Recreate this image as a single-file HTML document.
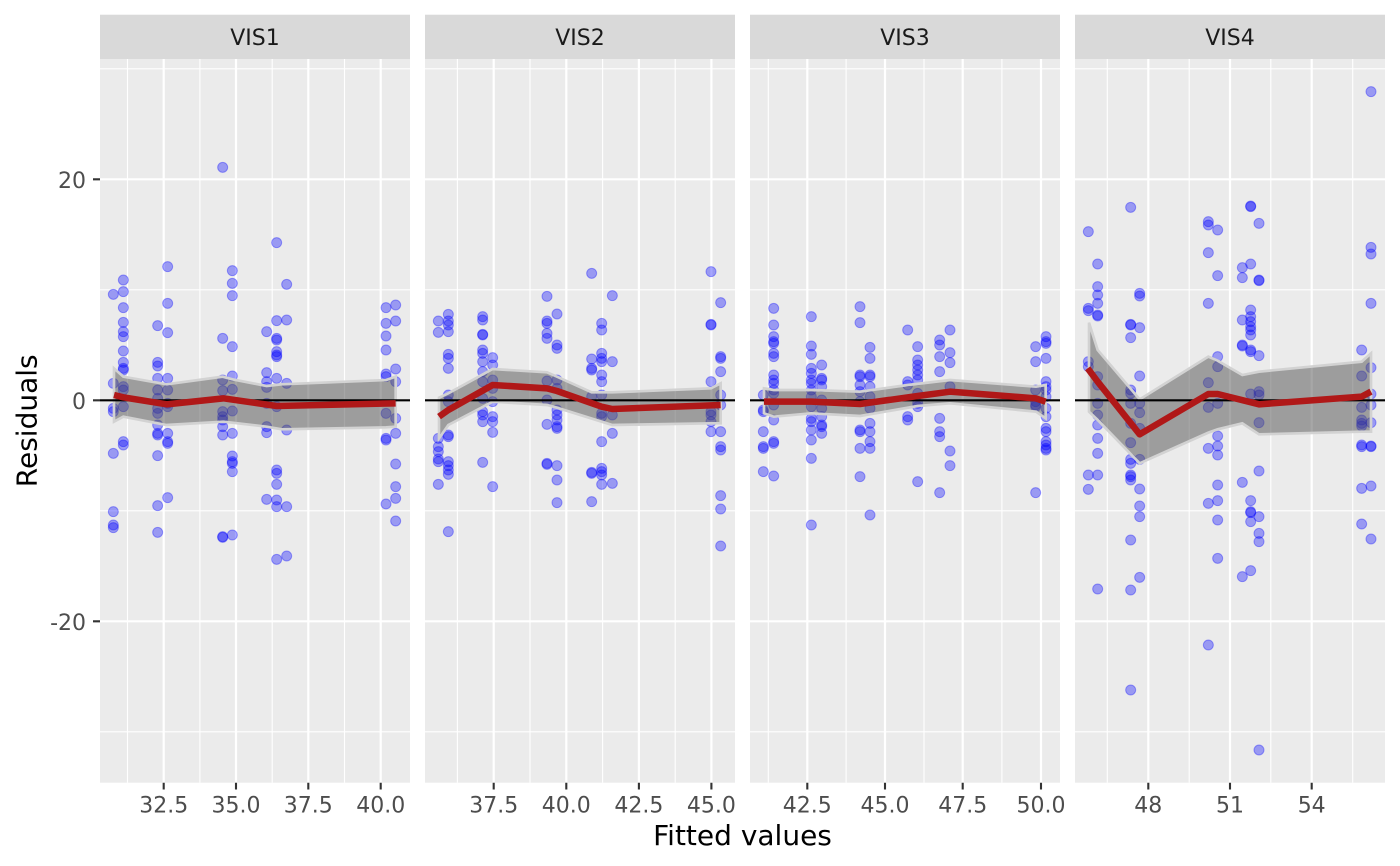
<!DOCTYPE html>
<html><head><meta charset="utf-8"><style>
html,body{margin:0;padding:0;background:#fff;}
svg{display:block;}
.pt circle{fill:rgba(0,0,255,0.35);stroke:rgba(0,0,255,0.35);stroke-width:3;}
.rib{fill:rgba(80,80,80,0.5);stroke:#d2d2d2;stroke-width:8;stroke-linejoin:miter;}
.fit{fill:none;stroke:#b01818;stroke-width:19.5;stroke-linejoin:round;stroke-linecap:butt;}
.tk{font-family:"DejaVu Sans","Liberation Sans",sans-serif;font-size:22px;fill:#4d4d4d;}
.st{font-family:"DejaVu Sans","Liberation Sans",sans-serif;font-size:22px;fill:#1a1a1a;}
.ti{font-family:"DejaVu Sans","Liberation Sans",sans-serif;font-size:28px;fill:#000;}
</style></head><body>
<svg width="1400" height="866" viewBox="0 0 1400 866" xmlns="http://www.w3.org/2000/svg">
<defs>
<clipPath id="c1"><rect x="100" y="59" width="310" height="723.7"/></clipPath>
<clipPath id="c2"><rect x="425" y="59" width="310" height="723.7"/></clipPath>
<clipPath id="c3"><rect x="750" y="59" width="310" height="723.7"/></clipPath>
<clipPath id="c4"><rect x="1075" y="59" width="310" height="723.7"/></clipPath>
</defs>
<rect width="1400" height="866" fill="#fff"/>

<!-- strips -->
<rect x="100" y="14.7" width="310" height="44.3" fill="#d9d9d9"/>
<rect x="425" y="14.7" width="310" height="44.3" fill="#d9d9d9"/>
<rect x="750" y="14.7" width="310" height="44.3" fill="#d9d9d9"/>
<rect x="1075" y="14.7" width="310" height="44.3" fill="#d9d9d9"/>
<text class="st" x="255" y="45" text-anchor="middle">VIS1</text>
<text class="st" x="580" y="45" text-anchor="middle">VIS2</text>
<text class="st" x="905" y="45" text-anchor="middle">VIS3</text>
<text class="st" x="1230" y="45" text-anchor="middle">VIS4</text>

<!-- panel backgrounds -->
<rect x="100" y="59" width="310" height="723.7" fill="#ebebeb"/>
<rect x="425" y="59" width="310" height="723.7" fill="#ebebeb"/>
<rect x="750" y="59" width="310" height="723.7" fill="#ebebeb"/>
<rect x="1075" y="59" width="310" height="723.7" fill="#ebebeb"/>

<!-- horizontal grid -->
<g stroke="#fff">
<g stroke-width="1.1">
<path d="M100 68.8H410M425 68.8H735M750 68.8H1060M1075 68.8H1385"/>
<path d="M100 289.8H410M425 289.8H735M750 289.8H1060M1075 289.8H1385"/>
<path d="M100 510.8H410M425 510.8H735M750 510.8H1060M1075 510.8H1385"/>
<path d="M100 731.8H410M425 731.8H735M750 731.8H1060M1075 731.8H1385"/>
<path d="M127.5 59V782.7M199.9 59V782.7M272.2 59V782.7M344.5 59V782.7"/>
<path d="M457.4 59V782.7M530 59V782.7M602.6 59V782.7M675.2 59V782.7"/>
<path d="M768.3 59V782.7M846.1 59V782.7M924 59V782.7M1001.9 59V782.7"/>
<path d="M1107.3 59V782.7M1189.2 59V782.7M1270.8 59V782.7M1352.7 59V782.7"/>
</g>
<g stroke-width="2.2">
<path d="M100 179.3H410M425 179.3H735M750 179.3H1060M1075 179.3H1385"/>
<path d="M100 400.3H410M425 400.3H735M750 400.3H1060M1075 400.3H1385"/>
<path d="M100 621.3H410M425 621.3H735M750 621.3H1060M1075 621.3H1385"/>
<path d="M163.7 59V782.7M236 59V782.7M308.3 59V782.7M380.7 59V782.7"/>
<path d="M493.7 59V782.7M566.3 59V782.7M638.9 59V782.7M711.4 59V782.7"/>
<path d="M807.3 59V782.7M885 59V782.7M962.7 59V782.7M1041 59V782.7"/>
<path d="M1148.3 59V782.7M1230 59V782.7M1311.7 59V782.7"/>
</g>
</g>

<!-- PANEL 1 -->
<g clip-path="url(#c1)">
<g transform="translate(100,150) scale(0.333333)">
<g class="pt">
<circle cx="40" cy="433" r="15"/><circle cx="40" cy="700" r="15"/><circle cx="40" cy="775" r="15"/><circle cx="40" cy="785" r="15"/><circle cx="40" cy="910" r="15"/><circle cx="40" cy="1085" r="15"/><circle cx="40" cy="1125" r="15"/><circle cx="40" cy="1133" r="15"/>
<circle cx="70" cy="390" r="15"/><circle cx="70" cy="425" r="15"/><circle cx="70" cy="473" r="15"/><circle cx="70" cy="517" r="15"/><circle cx="70" cy="545" r="15"/><circle cx="70" cy="560" r="15"/><circle cx="70" cy="603" r="15"/><circle cx="70" cy="637" r="15"/><circle cx="70" cy="655" r="15"/><circle cx="70" cy="660" r="15"/><circle cx="70" cy="710" r="15"/><circle cx="70" cy="720" r="15"/><circle cx="70" cy="770" r="15"/><circle cx="70" cy="875" r="15"/><circle cx="70" cy="885" r="15"/>
<circle cx="173" cy="527" r="15"/><circle cx="173" cy="637" r="15"/><circle cx="173" cy="648" r="15"/><circle cx="173" cy="685" r="15"/><circle cx="173" cy="720" r="15"/><circle cx="173" cy="745" r="15"/><circle cx="173" cy="775" r="15"/><circle cx="173" cy="790" r="15"/><circle cx="173" cy="825" r="15"/><circle cx="173" cy="850" r="15"/><circle cx="173" cy="855" r="15"/><circle cx="173" cy="917" r="15"/><circle cx="173" cy="1067" r="15"/><circle cx="173" cy="1147" r="15"/>
<circle cx="203" cy="350" r="15"/><circle cx="203" cy="460" r="15"/><circle cx="203" cy="548" r="15"/><circle cx="203" cy="685" r="15"/><circle cx="203" cy="720" r="15"/><circle cx="203" cy="760" r="15"/><circle cx="203" cy="770" r="15"/><circle cx="203" cy="850" r="15"/><circle cx="203" cy="875" r="15"/><circle cx="203" cy="880" r="15"/><circle cx="203" cy="1043" r="15"/>
<circle cx="368" cy="52" r="15"/><circle cx="368" cy="565" r="15"/><circle cx="368" cy="690" r="15"/><circle cx="368" cy="722" r="15"/><circle cx="368" cy="785" r="15"/><circle cx="368" cy="800" r="15"/><circle cx="368" cy="810" r="15"/><circle cx="368" cy="830" r="15"/><circle cx="368" cy="855" r="15"/><circle cx="368" cy="1160" r="15"/><circle cx="368" cy="1162" r="15"/>
<circle cx="397" cy="362" r="15"/><circle cx="397" cy="400" r="15"/><circle cx="397" cy="437" r="15"/><circle cx="397" cy="590" r="15"/><circle cx="397" cy="678" r="15"/><circle cx="397" cy="718" r="15"/><circle cx="397" cy="783" r="15"/><circle cx="397" cy="850" r="15"/><circle cx="397" cy="918" r="15"/><circle cx="397" cy="935" r="15"/><circle cx="397" cy="940" r="15"/><circle cx="397" cy="965" r="15"/><circle cx="397" cy="1155" r="15"/>
<circle cx="500" cy="545" r="15"/><circle cx="500" cy="668" r="15"/><circle cx="500" cy="695" r="15"/><circle cx="500" cy="712" r="15"/><circle cx="500" cy="760" r="15"/><circle cx="500" cy="830" r="15"/><circle cx="500" cy="848" r="15"/><circle cx="500" cy="1048" r="15"/>
<circle cx="530" cy="278" r="15"/><circle cx="530" cy="512" r="15"/><circle cx="530" cy="565" r="15"/><circle cx="530" cy="570" r="15"/><circle cx="530" cy="605" r="15"/><circle cx="530" cy="615" r="15"/><circle cx="530" cy="620" r="15"/><circle cx="530" cy="685" r="15"/><circle cx="530" cy="770" r="15"/><circle cx="530" cy="960" r="15"/><circle cx="530" cy="970" r="15"/><circle cx="530" cy="1003" r="15"/><circle cx="530" cy="1050" r="15"/><circle cx="530" cy="1070" r="15"/><circle cx="530" cy="1228" r="15"/>
<circle cx="560" cy="403" r="15"/><circle cx="560" cy="510" r="15"/><circle cx="560" cy="700" r="15"/><circle cx="560" cy="840" r="15"/><circle cx="560" cy="1070" r="15"/><circle cx="560" cy="1218" r="15"/>
<circle cx="858" cy="473" r="15"/><circle cx="858" cy="520" r="15"/><circle cx="858" cy="558" r="15"/><circle cx="858" cy="600" r="15"/><circle cx="858" cy="672" r="15"/><circle cx="858" cy="680" r="15"/><circle cx="858" cy="790" r="15"/><circle cx="858" cy="865" r="15"/><circle cx="858" cy="870" r="15"/><circle cx="858" cy="1062" r="15"/>
<circle cx="887" cy="465" r="15"/><circle cx="887" cy="513" r="15"/><circle cx="887" cy="657" r="15"/><circle cx="887" cy="695" r="15"/><circle cx="887" cy="805" r="15"/><circle cx="887" cy="850" r="15"/><circle cx="887" cy="942" r="15"/><circle cx="887" cy="1010" r="15"/><circle cx="887" cy="1045" r="15"/><circle cx="887" cy="1113" r="15"/>
</g>
<polygon class="rib" points="42,655 70,680 200,703 368,680 397,688 500,708 545,703 858,690 887,680 887,830 858,832 545,838 500,830 397,818 370,815 200,825 70,800 42,815"/>
<path d="M0 751H930" stroke="#000" stroke-width="6.5"/>
<polyline class="fit" points="42,735 70,742 200,763 370,745 530,768 887,760"/>
</g>
</g>

<!-- PANEL 2 -->
<g clip-path="url(#c2)">
<g transform="translate(425,255) scale(0.333333)">
<g class="pt">
<circle cx="40" cy="198" r="15"/><circle cx="40" cy="232" r="15"/><circle cx="40" cy="550" r="15"/><circle cx="40" cy="575" r="15"/><circle cx="40" cy="590" r="15"/><circle cx="40" cy="612" r="15"/><circle cx="40" cy="620" r="15"/><circle cx="40" cy="688" r="15"/>
<circle cx="70" cy="178" r="15"/><circle cx="70" cy="198" r="15"/><circle cx="70" cy="210" r="15"/><circle cx="70" cy="230" r="15"/><circle cx="70" cy="298" r="15"/><circle cx="70" cy="310" r="15"/><circle cx="70" cy="340" r="15"/><circle cx="70" cy="420" r="15"/><circle cx="70" cy="440" r="15"/><circle cx="70" cy="540" r="15"/><circle cx="70" cy="545" r="15"/><circle cx="70" cy="620" r="15"/><circle cx="70" cy="632" r="15"/><circle cx="70" cy="645" r="15"/><circle cx="70" cy="658" r="15"/><circle cx="70" cy="830" r="15"/>
<circle cx="173" cy="185" r="15"/><circle cx="173" cy="195" r="15"/><circle cx="173" cy="238" r="15"/><circle cx="173" cy="240" r="15"/><circle cx="173" cy="285" r="15"/><circle cx="173" cy="295" r="15"/><circle cx="173" cy="320" r="15"/><circle cx="173" cy="350" r="15"/><circle cx="173" cy="380" r="15"/><circle cx="173" cy="430" r="15"/><circle cx="173" cy="470" r="15"/><circle cx="173" cy="480" r="15"/><circle cx="173" cy="500" r="15"/><circle cx="173" cy="622" r="15"/>
<circle cx="203" cy="308" r="15"/><circle cx="203" cy="330" r="15"/><circle cx="203" cy="375" r="15"/><circle cx="203" cy="400" r="15"/><circle cx="203" cy="440" r="15"/><circle cx="203" cy="485" r="15"/><circle cx="203" cy="500" r="15"/><circle cx="203" cy="532" r="15"/><circle cx="203" cy="695" r="15"/>
<circle cx="366" cy="124" r="15"/><circle cx="366" cy="198" r="15"/><circle cx="366" cy="205" r="15"/><circle cx="366" cy="235" r="15"/><circle cx="366" cy="250" r="15"/><circle cx="366" cy="378" r="15"/><circle cx="366" cy="435" r="15"/><circle cx="366" cy="508" r="15"/><circle cx="366" cy="625" r="15"/><circle cx="366" cy="628" r="15"/>
<circle cx="396" cy="177" r="15"/><circle cx="396" cy="270" r="15"/><circle cx="396" cy="280" r="15"/><circle cx="396" cy="375" r="15"/><circle cx="396" cy="400" r="15"/><circle cx="396" cy="465" r="15"/><circle cx="396" cy="480" r="15"/><circle cx="396" cy="495" r="15"/><circle cx="396" cy="515" r="15"/><circle cx="396" cy="520" r="15"/><circle cx="396" cy="632" r="15"/><circle cx="396" cy="675" r="15"/><circle cx="396" cy="743" r="15"/>
<circle cx="500" cy="55" r="15"/><circle cx="500" cy="312" r="15"/><circle cx="500" cy="340" r="15"/><circle cx="500" cy="345" r="15"/><circle cx="500" cy="425" r="15"/><circle cx="500" cy="652" r="15"/><circle cx="500" cy="655" r="15"/><circle cx="500" cy="740" r="15"/>
<circle cx="530" cy="205" r="15"/><circle cx="530" cy="225" r="15"/><circle cx="530" cy="295" r="15"/><circle cx="530" cy="310" r="15"/><circle cx="530" cy="320" r="15"/><circle cx="530" cy="360" r="15"/><circle cx="530" cy="380" r="15"/><circle cx="530" cy="420" r="15"/><circle cx="530" cy="475" r="15"/><circle cx="530" cy="485" r="15"/><circle cx="530" cy="560" r="15"/><circle cx="530" cy="640" r="15"/><circle cx="530" cy="650" r="15"/><circle cx="530" cy="660" r="15"/><circle cx="530" cy="688" r="15"/>
<circle cx="562" cy="122" r="15"/><circle cx="562" cy="320" r="15"/><circle cx="562" cy="480" r="15"/><circle cx="562" cy="535" r="15"/><circle cx="562" cy="685" r="15"/>
<circle cx="858" cy="50" r="15"/><circle cx="858" cy="208" r="15"/><circle cx="858" cy="210" r="15"/><circle cx="858" cy="380" r="15"/><circle cx="858" cy="470" r="15"/><circle cx="858" cy="480" r="15"/><circle cx="858" cy="500" r="15"/><circle cx="858" cy="530" r="15"/>
<circle cx="887" cy="143" r="15"/><circle cx="887" cy="305" r="15"/><circle cx="887" cy="310" r="15"/><circle cx="887" cy="350" r="15"/><circle cx="887" cy="420" r="15"/><circle cx="887" cy="450" r="15"/><circle cx="887" cy="530" r="15"/><circle cx="887" cy="575" r="15"/><circle cx="887" cy="585" r="15"/><circle cx="887" cy="722" r="15"/><circle cx="887" cy="762" r="15"/><circle cx="887" cy="873" r="15"/>
</g>
<polygon class="rib" points="42,428 70,415 203,342 366,352 396,365 500,412 562,412 858,400 887,385 887,505 858,505 562,510 530,500 396,458 366,450 203,440 70,510 42,550"/>
<path d="M0 436H930" stroke="#000" stroke-width="6.5"/>
<polyline class="fit" points="42,485 70,465 203,390 366,400 396,408 530,455 562,462 887,450"/>
</g>
</g>

<!-- PANEL 3 -->
<g clip-path="url(#c3)">
<g transform="translate(750,290) scale(0.333333)">
<g class="pt">
<circle cx="40" cy="315" r="15"/><circle cx="40" cy="360" r="15"/><circle cx="40" cy="365" r="15"/><circle cx="40" cy="425" r="15"/><circle cx="40" cy="470" r="15"/><circle cx="40" cy="475" r="15"/><circle cx="40" cy="545" r="15"/>
<circle cx="71" cy="55" r="15"/><circle cx="71" cy="105" r="15"/><circle cx="71" cy="140" r="15"/><circle cx="71" cy="155" r="15"/><circle cx="71" cy="160" r="15"/><circle cx="71" cy="190" r="15"/><circle cx="71" cy="200" r="15"/><circle cx="71" cy="255" r="15"/><circle cx="71" cy="270" r="15"/><circle cx="71" cy="280" r="15"/><circle cx="71" cy="300" r="15"/><circle cx="71" cy="310" r="15"/><circle cx="71" cy="345" r="15"/><circle cx="71" cy="390" r="15"/><circle cx="71" cy="455" r="15"/><circle cx="71" cy="460" r="15"/><circle cx="71" cy="558" r="15"/>
<circle cx="184" cy="80" r="15"/><circle cx="184" cy="168" r="15"/><circle cx="184" cy="193" r="15"/><circle cx="184" cy="235" r="15"/><circle cx="184" cy="250" r="15"/><circle cx="184" cy="270" r="15"/><circle cx="184" cy="280" r="15"/><circle cx="184" cy="300" r="15"/><circle cx="184" cy="320" r="15"/><circle cx="184" cy="350" r="15"/><circle cx="184" cy="385" r="15"/><circle cx="184" cy="395" r="15"/><circle cx="184" cy="420" r="15"/><circle cx="184" cy="450" r="15"/><circle cx="184" cy="505" r="15"/><circle cx="184" cy="705" r="15"/>
<circle cx="215" cy="225" r="15"/><circle cx="215" cy="265" r="15"/><circle cx="215" cy="270" r="15"/><circle cx="215" cy="290" r="15"/><circle cx="215" cy="330" r="15"/><circle cx="215" cy="355" r="15"/><circle cx="215" cy="380" r="15"/><circle cx="215" cy="405" r="15"/><circle cx="215" cy="410" r="15"/><circle cx="215" cy="430" r="15"/>
<circle cx="330" cy="50" r="15"/><circle cx="330" cy="98" r="15"/><circle cx="330" cy="255" r="15"/><circle cx="330" cy="260" r="15"/><circle cx="330" cy="285" r="15"/><circle cx="330" cy="305" r="15"/><circle cx="330" cy="335" r="15"/><circle cx="330" cy="420" r="15"/><circle cx="330" cy="425" r="15"/><circle cx="330" cy="475" r="15"/><circle cx="330" cy="560" r="15"/>
<circle cx="360" cy="172" r="15"/><circle cx="360" cy="205" r="15"/><circle cx="360" cy="255" r="15"/><circle cx="360" cy="260" r="15"/><circle cx="360" cy="290" r="15"/><circle cx="360" cy="320" r="15"/><circle cx="360" cy="355" r="15"/><circle cx="360" cy="400" r="15"/><circle cx="360" cy="425" r="15"/><circle cx="360" cy="455" r="15"/><circle cx="360" cy="475" r="15"/><circle cx="360" cy="675" r="15"/>
<circle cx="473" cy="120" r="15"/><circle cx="473" cy="275" r="15"/><circle cx="473" cy="285" r="15"/><circle cx="473" cy="380" r="15"/><circle cx="473" cy="390" r="15"/>
<circle cx="503" cy="170" r="15"/><circle cx="503" cy="210" r="15"/><circle cx="503" cy="225" r="15"/><circle cx="503" cy="240" r="15"/><circle cx="503" cy="255" r="15"/><circle cx="503" cy="270" r="15"/><circle cx="503" cy="310" r="15"/><circle cx="503" cy="340" r="15"/><circle cx="503" cy="350" r="15"/><circle cx="503" cy="575" r="15"/>
<circle cx="569" cy="150" r="15"/><circle cx="569" cy="165" r="15"/><circle cx="569" cy="200" r="15"/><circle cx="569" cy="245" r="15"/><circle cx="569" cy="385" r="15"/><circle cx="569" cy="425" r="15"/><circle cx="569" cy="440" r="15"/><circle cx="569" cy="608" r="15"/>
<circle cx="600" cy="120" r="15"/><circle cx="600" cy="188" r="15"/><circle cx="600" cy="218" r="15"/><circle cx="600" cy="290" r="15"/><circle cx="600" cy="483" r="15"/><circle cx="600" cy="527" r="15"/>
<circle cx="857" cy="170" r="15"/><circle cx="857" cy="215" r="15"/><circle cx="857" cy="300" r="15"/><circle cx="857" cy="335" r="15"/><circle cx="857" cy="345" r="15"/><circle cx="857" cy="350" r="15"/><circle cx="857" cy="608" r="15"/>
<circle cx="888" cy="140" r="15"/><circle cx="888" cy="155" r="15"/><circle cx="888" cy="160" r="15"/><circle cx="888" cy="205" r="15"/><circle cx="888" cy="275" r="15"/><circle cx="888" cy="290" r="15"/><circle cx="888" cy="300" r="15"/><circle cx="888" cy="320" r="15"/><circle cx="888" cy="355" r="15"/><circle cx="888" cy="380" r="15"/><circle cx="888" cy="415" r="15"/><circle cx="888" cy="425" r="15"/><circle cx="888" cy="455" r="15"/><circle cx="888" cy="465" r="15"/><circle cx="888" cy="475" r="15"/><circle cx="888" cy="480" r="15"/>
</g>
<polygon class="rib" points="42,295 71,300 184,300 330,305 473,285 600,270 858,290 887,285 887,385 858,365 600,340 503,348 330,378 184,370 71,380 42,370"/>
<path d="M0 331H930" stroke="#000" stroke-width="6.5"/>
<polyline class="fit" points="42,335 184,335 330,342 503,318 600,305 857,325 887,335"/>
</g>
</g>

<!-- PANEL 4 -->
<g clip-path="url(#c4)">
<g transform="translate(1075,190) scale(0.333333)">
<g class="pt">
<circle cx="40" cy="125" r="15"/><circle cx="40" cy="355" r="15"/><circle cx="40" cy="362" r="15"/><circle cx="40" cy="515" r="15"/><circle cx="40" cy="530" r="15"/><circle cx="40" cy="855" r="15"/><circle cx="40" cy="898" r="15"/>
<circle cx="68" cy="222" r="15"/><circle cx="68" cy="290" r="15"/><circle cx="68" cy="315" r="15"/><circle cx="68" cy="340" r="15"/><circle cx="68" cy="375" r="15"/><circle cx="68" cy="378" r="15"/><circle cx="68" cy="560" r="15"/><circle cx="68" cy="585" r="15"/><circle cx="68" cy="640" r="15"/><circle cx="68" cy="675" r="15"/><circle cx="68" cy="705" r="15"/><circle cx="68" cy="745" r="15"/><circle cx="68" cy="790" r="15"/><circle cx="68" cy="855" r="15"/><circle cx="68" cy="1197" r="15"/>
<circle cx="167" cy="52" r="15"/><circle cx="167" cy="403" r="15"/><circle cx="167" cy="405" r="15"/><circle cx="167" cy="443" r="15"/><circle cx="167" cy="600" r="15"/><circle cx="167" cy="610" r="15"/><circle cx="167" cy="640" r="15"/><circle cx="167" cy="700" r="15"/><circle cx="167" cy="758" r="15"/><circle cx="167" cy="808" r="15"/><circle cx="167" cy="820" r="15"/><circle cx="167" cy="855" r="15"/><circle cx="167" cy="860" r="15"/><circle cx="167" cy="870" r="15"/><circle cx="167" cy="1050" r="15"/><circle cx="167" cy="1200" r="15"/><circle cx="167" cy="1500" r="15"/>
<circle cx="194" cy="310" r="15"/><circle cx="194" cy="318" r="15"/><circle cx="194" cy="413" r="15"/><circle cx="194" cy="558" r="15"/><circle cx="194" cy="640" r="15"/><circle cx="194" cy="668" r="15"/><circle cx="194" cy="715" r="15"/><circle cx="194" cy="808" r="15"/><circle cx="194" cy="897" r="15"/><circle cx="194" cy="948" r="15"/><circle cx="194" cy="980" r="15"/><circle cx="194" cy="1162" r="15"/>
<circle cx="400" cy="95" r="15"/><circle cx="400" cy="105" r="15"/><circle cx="400" cy="188" r="15"/><circle cx="400" cy="340" r="15"/><circle cx="400" cy="578" r="15"/><circle cx="400" cy="652" r="15"/><circle cx="400" cy="775" r="15"/><circle cx="400" cy="940" r="15"/><circle cx="400" cy="1365" r="15"/>
<circle cx="428" cy="120" r="15"/><circle cx="428" cy="257" r="15"/><circle cx="428" cy="500" r="15"/><circle cx="428" cy="530" r="15"/><circle cx="428" cy="640" r="15"/><circle cx="428" cy="738" r="15"/><circle cx="428" cy="768" r="15"/><circle cx="428" cy="795" r="15"/><circle cx="428" cy="885" r="15"/><circle cx="428" cy="932" r="15"/><circle cx="428" cy="990" r="15"/><circle cx="428" cy="1105" r="15"/>
<circle cx="502" cy="233" r="15"/><circle cx="502" cy="263" r="15"/><circle cx="502" cy="390" r="15"/><circle cx="502" cy="465" r="15"/><circle cx="502" cy="468" r="15"/><circle cx="502" cy="877" r="15"/><circle cx="502" cy="1160" r="15"/>
<circle cx="527" cy="48" r="15"/><circle cx="527" cy="50" r="15"/><circle cx="527" cy="222" r="15"/><circle cx="527" cy="360" r="15"/><circle cx="527" cy="380" r="15"/><circle cx="527" cy="395" r="15"/><circle cx="527" cy="410" r="15"/><circle cx="527" cy="420" r="15"/><circle cx="527" cy="435" r="15"/><circle cx="527" cy="480" r="15"/><circle cx="527" cy="485" r="15"/><circle cx="527" cy="612" r="15"/><circle cx="527" cy="932" r="15"/><circle cx="527" cy="965" r="15"/><circle cx="527" cy="968" r="15"/><circle cx="527" cy="995" r="15"/><circle cx="527" cy="1142" r="15"/>
<circle cx="552" cy="100" r="15"/><circle cx="552" cy="270" r="15"/><circle cx="552" cy="272" r="15"/><circle cx="552" cy="497" r="15"/><circle cx="552" cy="605" r="15"/><circle cx="552" cy="615" r="15"/><circle cx="552" cy="698" r="15"/><circle cx="552" cy="843" r="15"/><circle cx="552" cy="980" r="15"/><circle cx="552" cy="1030" r="15"/><circle cx="552" cy="1055" r="15"/><circle cx="552" cy="1680" r="15"/>
<circle cx="860" cy="480" r="15"/><circle cx="860" cy="558" r="15"/><circle cx="860" cy="652" r="15"/><circle cx="860" cy="690" r="15"/><circle cx="860" cy="700" r="15"/><circle cx="860" cy="708" r="15"/><circle cx="860" cy="765" r="15"/><circle cx="860" cy="770" r="15"/><circle cx="860" cy="895" r="15"/><circle cx="860" cy="1002" r="15"/>
<circle cx="888" cy="-295" r="15"/><circle cx="888" cy="172" r="15"/><circle cx="888" cy="192" r="15"/><circle cx="888" cy="340" r="15"/><circle cx="888" cy="533" r="15"/><circle cx="888" cy="612" r="15"/><circle cx="888" cy="645" r="15"/><circle cx="888" cy="698" r="15"/><circle cx="888" cy="768" r="15"/><circle cx="888" cy="770" r="15"/><circle cx="888" cy="888" r="15"/><circle cx="888" cy="1047" r="15"/>
</g>
<polygon class="rib" points="42,398 68,480 194,628 400,500 428,512 502,555 552,545 860,515 888,490 888,725 860,725 552,733 502,700 428,718 400,728 194,820 68,690 42,665"/>
<path d="M0 631H930" stroke="#000" stroke-width="6.5"/>
<polyline class="fit" points="38,535 68,575 194,733 400,612 428,612 552,643 860,620 888,605"/>
</g>
</g>

<!-- axis ticks -->
<g stroke="#333" stroke-width="2.1">
<path d="M93 179.3H100M93 400.3H100M93 621.3H100"/>
<path d="M163.7 782.7V789.5M236 782.7V789.5M308.3 782.7V789.5M380.7 782.7V789.5"/>
<path d="M493.7 782.7V789.5M566.3 782.7V789.5M638.9 782.7V789.5M711.4 782.7V789.5"/>
<path d="M807.3 782.7V789.5M885 782.7V789.5M962.7 782.7V789.5M1041 782.7V789.5"/>
<path d="M1148.3 782.7V789.5M1230 782.7V789.5M1311.7 782.7V789.5"/>
</g>

<!-- y tick labels -->
<text class="tk" x="86" y="188" text-anchor="end">20</text>
<text class="tk" x="86" y="409" text-anchor="end">0</text>
<text class="tk" x="86" y="630" text-anchor="end">-20</text>

<!-- x tick labels -->
<g class="tk" text-anchor="middle">
<text x="163.7" y="812.7">32.5</text><text x="236" y="812.7">35.0</text><text x="308.3" y="812.7">37.5</text><text x="380.7" y="812.7">40.0</text>
<text x="493.7" y="812.7">37.5</text><text x="566.3" y="812.7">40.0</text><text x="638.9" y="812.7">42.5</text><text x="711.4" y="812.7">45.0</text>
<text x="807.3" y="812.7">42.5</text><text x="885" y="812.7">45.0</text><text x="962.7" y="812.7">47.5</text><text x="1041" y="812.7">50.0</text>
<text x="1148.3" y="812.7">48</text><text x="1230" y="812.7">51</text><text x="1311.7" y="812.7">54</text>
</g>

<!-- axis titles -->
<text class="ti" x="742.5" y="845" text-anchor="middle">Fitted values</text>
<text class="ti" transform="translate(36.5,420.8) rotate(-90)" text-anchor="middle">Residuals</text>
</svg>
</body></html>
